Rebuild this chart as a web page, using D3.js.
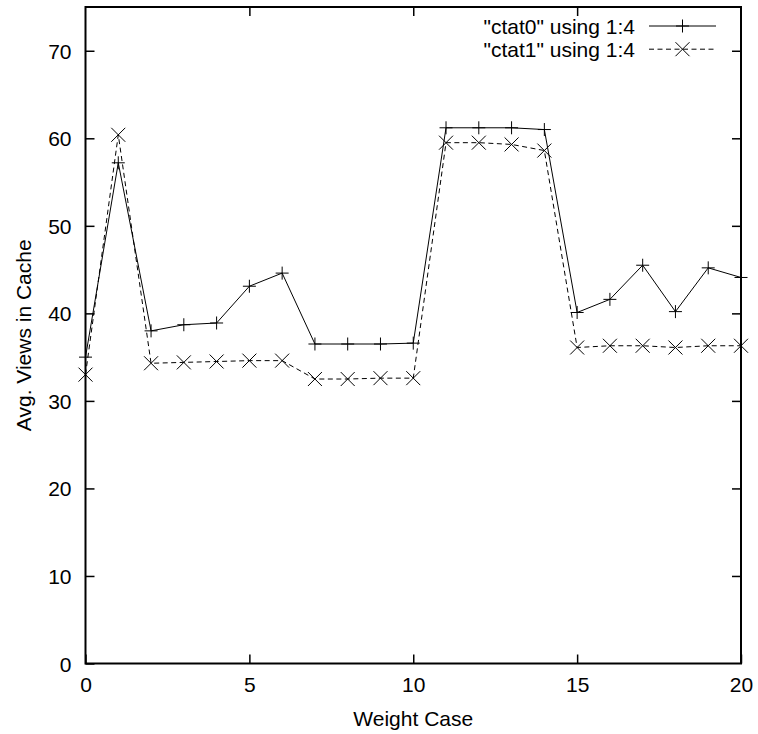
<!DOCTYPE html>
<html>
<head>
<meta charset="utf-8">
<script src="https://cdn.jsdelivr.net/npm/d3@7"></script>
<style>
  html, body { margin: 0; padding: 0; background: #fff; }
  svg { display: block; font-family: "Liberation Sans", Arial, Helvetica, sans-serif; }
</style>
</head>
<body>
<svg id="chart" width="758" height="734"></svg>
<script>
// ---- data ----
const weightCases = [0,1,2,3,4,5,6,7,8,9,10,11,12,13,14,15,16,17,18,19,20];
const ctat0 = [35.0,57.2,38.0,38.7,38.9,43.1,44.6,36.5,36.5,36.5,36.6,61.2,61.2,61.2,61.0,40.1,41.6,45.5,40.2,45.2,44.1];
const ctat1 = [33.0,60.4,34.3,34.4,34.5,34.6,34.6,32.5,32.5,32.6,32.6,59.5,59.5,59.3,58.6,36.1,36.3,36.3,36.1,36.3,36.3];
const seriesNames = ['"ctat0" using 1:4', '"ctat1" using 1:4'];
const xTicks = [0,5,10,15,20];
const yTicks = [0,10,20,30,40,50,60,70];
const xLabel = "Weight Case";
const yLabel = "Avg. Views in Cache";

// ---- layout ----
const L = 85.5, R = 741, T = 7, B = 663.5;
const FS = 21;
const svg = d3.select("#chart");

const x = d3.scaleLinear().domain([0, 20]).range([L, R]);
const y = d3.scaleLinear().domain([0, 75]).range([B, T]);

// axes (ticks pointing inward, mirrored)
function styleAxis(g) {
  g.select(".domain").remove();
  g.selectAll(".tick line").attr("stroke", "#000").attr("stroke-width", 1.5);
  g.selectAll(".tick text").attr("fill", "#000").style("font-size", FS + "px")
    .style("font-family", '"Liberation Sans", Arial, sans-serif');
}
svg.append("g").attr("transform", `translate(0,${B})`)
  .call(d3.axisBottom(x).tickValues(xTicks).tickSize(-9).tickPadding(14).tickFormat(d3.format("d")))
  .call(styleAxis);
svg.append("g").attr("transform", `translate(0,${T})`)
  .call(d3.axisTop(x).tickValues(xTicks.slice(1, -1)).tickSize(-9).tickFormat(""))
  .call(styleAxis);
svg.append("g").attr("transform", `translate(${L},0)`)
  .call(d3.axisLeft(y).tickValues(yTicks).tickSize(-9).tickPadding(14).tickFormat(d3.format("d")))
  .call(styleAxis)
  .call(g => g.selectAll(".tick text").attr("dy", "0.36em"));
svg.append("g").attr("transform", `translate(${R},0)`)
  .call(d3.axisRight(y).tickValues(yTicks.slice(1)).tickSize(-9).tickFormat(""))
  .call(styleAxis);

// border
svg.append("rect").attr("x", L).attr("y", T).attr("width", R - L).attr("height", B - T)
  .attr("fill", "none").attr("stroke", "#000").attr("stroke-width", 2);

// axis labels
svg.append("text").attr("x", (L + R) / 2).attr("y", 726).attr("text-anchor", "middle")
  .style("font-size", FS + "px").text(xLabel);
svg.append("text").attr("transform", `translate(31,${(T + B) / 2}) rotate(-90)`)
  .attr("text-anchor", "middle").style("font-size", FS + "px").text(yLabel);

// series
const line = d3.line().x((d, i) => x(weightCases[i])).y(d => y(d));
const plusPath = (cx, cy, h) => `M${cx - h},${cy}H${cx + h}M${cx},${cy - h}V${cy + h}`;
const crossPath = (cx, cy, h) => `M${cx - h},${cy - h}L${cx + h},${cy + h}M${cx - h},${cy + h}L${cx + h},${cy - h}`;

const series = [
  { values: ctat0, dash: null, marker: plusPath, h: 6.5 },
  { values: ctat1, dash: "5,3.5", marker: crossPath, h: 7 }
];

series.forEach(s => {
  svg.append("path").datum(s.values).attr("d", line)
    .attr("fill", "none").attr("stroke", "#000").attr("stroke-width", 1)
    .attr("stroke-dasharray", s.dash);
  svg.append("g").selectAll("path").data(s.values).join("path")
    .attr("d", (d, i) => s.marker(x(weightCases[i]), y(d), s.h))
    .attr("fill", "none").attr("stroke", "#000").attr("stroke-width", 1);
});

// legend
const legRows = [26, 49.2];
series.forEach((s, i) => {
  const ly = legRows[i];
  svg.append("text").attr("x", 635).attr("y", ly).attr("dy", "0.36em")
    .attr("text-anchor", "end").style("font-size", FS + "px").text(seriesNames[i]);
  svg.append("line").attr("x1", 649).attr("x2", 716).attr("y1", ly).attr("y2", ly)
    .attr("stroke", "#000").attr("stroke-width", 1).attr("stroke-dasharray", s.dash);
  svg.append("path").attr("d", s.marker(682.5, ly, s.h))
    .attr("fill", "none").attr("stroke", "#000").attr("stroke-width", 1);
});
</script>
</body>
</html>
